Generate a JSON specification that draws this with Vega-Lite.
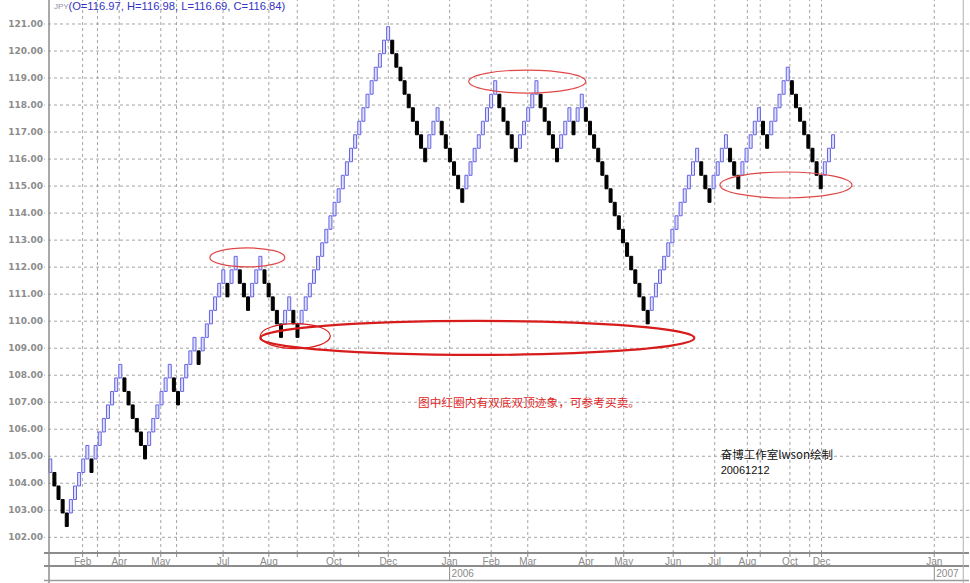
{
  "$schema": "https://vega.github.io/schema/vega-lite/v6.json",
  "width": 925,
  "height": 583,
  "autosize": {"type": "none"},
  "padding": {"left": 44, "top": 0, "right": 1, "bottom": 0},
  "background": "white",
  "config": {"view": {"stroke": null}},
  "datasets": {
    "bricks": [
      {"i":0,"o":104.4,"c":104.9},{"i":1,"o":104.4,"c":103.9},{"i":2,"o":103.9,"c":103.4},{"i":3,"o":103.4,"c":102.9},{"i":4,"o":102.9,"c":102.4},
      {"i":5,"o":102.9,"c":103.4},{"i":6,"o":103.4,"c":103.9},{"i":7,"o":103.9,"c":104.4},{"i":8,"o":104.4,"c":104.9},{"i":9,"o":104.9,"c":105.4},
      {"i":10,"o":104.9,"c":104.4},{"i":11,"o":104.9,"c":105.4},{"i":12,"o":105.4,"c":105.9},{"i":13,"o":105.9,"c":106.4},{"i":14,"o":106.4,"c":106.9},
      {"i":15,"o":106.9,"c":107.4},{"i":16,"o":107.4,"c":107.9},{"i":17,"o":107.9,"c":108.4},{"i":18,"o":107.9,"c":107.4},{"i":19,"o":107.4,"c":106.9},
      {"i":20,"o":106.9,"c":106.4},{"i":21,"o":106.4,"c":105.9},{"i":22,"o":105.9,"c":105.4},{"i":23,"o":105.4,"c":104.9},{"i":24,"o":105.4,"c":105.9},
      {"i":25,"o":105.9,"c":106.4},{"i":26,"o":106.4,"c":106.9},{"i":27,"o":106.9,"c":107.4},{"i":28,"o":107.4,"c":107.9},{"i":29,"o":107.9,"c":108.4},
      {"i":30,"o":107.9,"c":107.4},{"i":31,"o":107.4,"c":106.9},{"i":32,"o":107.4,"c":107.9},{"i":33,"o":107.9,"c":108.4},{"i":34,"o":108.4,"c":108.9},
      {"i":35,"o":108.9,"c":109.4},{"i":36,"o":108.9,"c":108.4},{"i":37,"o":108.9,"c":109.4},{"i":38,"o":109.4,"c":109.9},{"i":39,"o":109.9,"c":110.4},
      {"i":40,"o":110.4,"c":110.9},{"i":41,"o":110.9,"c":111.4},{"i":42,"o":111.4,"c":111.9},{"i":43,"o":111.4,"c":110.9},{"i":44,"o":111.4,"c":111.9},
      {"i":45,"o":111.9,"c":112.4},{"i":46,"o":111.9,"c":111.4},{"i":47,"o":111.4,"c":110.9},{"i":48,"o":110.9,"c":110.4},{"i":49,"o":110.9,"c":111.4},
      {"i":50,"o":111.4,"c":111.9},{"i":51,"o":111.9,"c":112.4},{"i":52,"o":111.9,"c":111.4},{"i":53,"o":111.4,"c":110.9},{"i":54,"o":110.9,"c":110.4},
      {"i":55,"o":110.4,"c":109.9},{"i":56,"o":109.9,"c":109.4},{"i":57,"o":109.9,"c":110.4},{"i":58,"o":110.4,"c":110.9},{"i":59,"o":110.4,"c":109.9},
      {"i":60,"o":109.9,"c":109.4},{"i":61,"o":109.9,"c":110.4},{"i":62,"o":110.4,"c":110.9},{"i":63,"o":110.9,"c":111.4},{"i":64,"o":111.4,"c":111.9},
      {"i":65,"o":111.9,"c":112.4},{"i":66,"o":112.4,"c":112.9},{"i":67,"o":112.9,"c":113.4},{"i":68,"o":113.4,"c":113.9},{"i":69,"o":113.9,"c":114.4},
      {"i":70,"o":114.4,"c":114.9},{"i":71,"o":114.9,"c":115.4},{"i":72,"o":115.4,"c":115.9},{"i":73,"o":115.9,"c":116.4},{"i":74,"o":116.4,"c":116.9},
      {"i":75,"o":116.9,"c":117.4},{"i":76,"o":117.4,"c":117.9},{"i":77,"o":117.9,"c":118.4},{"i":78,"o":118.4,"c":118.9},{"i":79,"o":118.9,"c":119.4},
      {"i":80,"o":119.4,"c":119.9},{"i":81,"o":119.9,"c":120.4},{"i":82,"o":120.4,"c":120.9},{"i":83,"o":120.4,"c":119.9},{"i":84,"o":119.9,"c":119.4},
      {"i":85,"o":119.4,"c":118.9},{"i":86,"o":118.9,"c":118.4},{"i":87,"o":118.4,"c":117.9},{"i":88,"o":117.9,"c":117.4},{"i":89,"o":117.4,"c":116.9},
      {"i":90,"o":116.9,"c":116.4},{"i":91,"o":116.4,"c":115.9},{"i":92,"o":116.4,"c":116.9},{"i":93,"o":116.9,"c":117.4},{"i":94,"o":117.4,"c":117.9},
      {"i":95,"o":117.4,"c":116.9},{"i":96,"o":116.9,"c":116.4},{"i":97,"o":116.4,"c":115.9},{"i":98,"o":115.9,"c":115.4},{"i":99,"o":115.4,"c":114.9},
      {"i":100,"o":114.9,"c":114.4},{"i":101,"o":114.9,"c":115.4},{"i":102,"o":115.4,"c":115.9},{"i":103,"o":115.9,"c":116.4},{"i":104,"o":116.4,"c":116.9},
      {"i":105,"o":116.9,"c":117.4},{"i":106,"o":117.4,"c":117.9},{"i":107,"o":117.9,"c":118.4},{"i":108,"o":118.4,"c":118.9},{"i":109,"o":118.4,"c":117.9},
      {"i":110,"o":117.9,"c":117.4},{"i":111,"o":117.4,"c":116.9},{"i":112,"o":116.9,"c":116.4},{"i":113,"o":116.4,"c":115.9},{"i":114,"o":116.4,"c":116.9},
      {"i":115,"o":116.9,"c":117.4},{"i":116,"o":117.4,"c":117.9},{"i":117,"o":117.9,"c":118.4},{"i":118,"o":118.4,"c":118.9},{"i":119,"o":118.4,"c":117.9},
      {"i":120,"o":117.9,"c":117.4},{"i":121,"o":117.4,"c":116.9},{"i":122,"o":116.9,"c":116.4},{"i":123,"o":116.4,"c":115.9},{"i":124,"o":116.4,"c":116.9},
      {"i":125,"o":116.9,"c":117.4},{"i":126,"o":117.4,"c":117.9},{"i":127,"o":117.4,"c":116.9},{"i":128,"o":117.4,"c":117.9},{"i":129,"o":117.9,"c":118.4},
      {"i":130,"o":117.9,"c":117.4},{"i":131,"o":117.4,"c":116.9},{"i":132,"o":116.9,"c":116.4},{"i":133,"o":116.4,"c":115.9},{"i":134,"o":115.9,"c":115.4},
      {"i":135,"o":115.4,"c":114.9},{"i":136,"o":114.9,"c":114.4},{"i":137,"o":114.4,"c":113.9},{"i":138,"o":113.9,"c":113.4},{"i":139,"o":113.4,"c":112.9},
      {"i":140,"o":112.9,"c":112.4},{"i":141,"o":112.4,"c":111.9},{"i":142,"o":111.9,"c":111.4},{"i":143,"o":111.4,"c":110.9},{"i":144,"o":110.9,"c":110.4},
      {"i":145,"o":110.4,"c":109.9},{"i":146,"o":110.4,"c":110.9},{"i":147,"o":110.9,"c":111.4},{"i":148,"o":111.4,"c":111.9},{"i":149,"o":111.9,"c":112.4},
      {"i":150,"o":112.4,"c":112.9},{"i":151,"o":112.9,"c":113.4},{"i":152,"o":113.4,"c":113.9},{"i":153,"o":113.9,"c":114.4},{"i":154,"o":114.4,"c":114.9},
      {"i":155,"o":114.9,"c":115.4},{"i":156,"o":115.4,"c":115.9},{"i":157,"o":115.9,"c":116.4},{"i":158,"o":115.9,"c":115.4},{"i":159,"o":115.4,"c":114.9},
      {"i":160,"o":114.9,"c":114.4},{"i":161,"o":114.9,"c":115.4},{"i":162,"o":115.4,"c":115.9},{"i":163,"o":115.9,"c":116.4},{"i":164,"o":116.4,"c":116.9},
      {"i":165,"o":116.4,"c":115.9},{"i":166,"o":115.9,"c":115.4},{"i":167,"o":115.4,"c":114.9},{"i":168,"o":115.4,"c":115.9},{"i":169,"o":115.9,"c":116.4},
      {"i":170,"o":116.4,"c":116.9},{"i":171,"o":116.9,"c":117.4},{"i":172,"o":117.4,"c":117.9},{"i":173,"o":117.4,"c":116.9},{"i":174,"o":116.9,"c":116.4},
      {"i":175,"o":116.9,"c":117.4},{"i":176,"o":117.4,"c":117.9},{"i":177,"o":117.9,"c":118.4},{"i":178,"o":118.4,"c":118.9},{"i":179,"o":118.9,"c":119.4},
      {"i":180,"o":118.9,"c":118.4},{"i":181,"o":118.4,"c":117.9},{"i":182,"o":117.9,"c":117.4},{"i":183,"o":117.4,"c":116.9},{"i":184,"o":116.9,"c":116.4},
      {"i":185,"o":116.4,"c":115.9},{"i":186,"o":115.9,"c":115.4},{"i":187,"o":115.4,"c":114.9},{"i":188,"o":115.4,"c":115.9},{"i":189,"o":115.9,"c":116.4},
      {"i":190,"o":116.4,"c":116.9}
    ],
    "levels": [
      {"v":102},{"v":103},{"v":104},{"v":105},{"v":106},{"v":107},{"v":108},{"v":109},{"v":110},{"v":111},
      {"v":112},{"v":113},{"v":114},{"v":115},{"v":116},{"v":117},{"v":118},{"v":119},{"v":120},{"v":121}
    ],
    "months": [
      {"pos":7.85,"label":"Feb"},{"pos":11.45,"label":""},{"pos":16.73,"label":"Apr"},{"pos":26.82,"label":"May"},
      {"pos":30.66,"label":""},{"pos":41.95,"label":"Jul"},{"pos":53.05,"label":"Aug"},{"pos":59.95,"label":""},
      {"pos":68.84,"label":"Oct"},{"pos":74.85,"label":""},{"pos":82.04,"label":"Dec"},{"pos":96.93,"label":"Jan"},
      {"pos":107.01,"label":"Feb"},{"pos":115.9,"label":"Mar"},{"pos":130.06,"label":"Apr"},{"pos":139.19,"label":"May"},
      {"pos":151.19,"label":"Jun"},{"pos":161.27,"label":"Jul"},{"pos":169.2,"label":"Aug"},{"pos":172.32,"label":""},
      {"pos":179.52,"label":"Oct"},{"pos":184.32,"label":""},{"pos":187.2,"label":"Dec"},{"pos":214.57,"label":"Jan"}
    ],
    "years": [
      {"pos":96.93,"label":"2006"},{"pos":214.57,"label":"2007"}
    ],
    "rings": [
      {"id":"a","x":47.83,"y":112.36},
      {"id":"b","x":59.47,"y":109.45},
      {"id":"c","x":103.65,"y":109.38},
      {"id":"d","x":115.77,"y":118.87},
      {"id":"e","x":178.56,"y":115.04}
    ]
  },
  "layer": [
    {
      "data": {"name": "levels"},
      "mark": {"type": "rule", "strokeDash": [3, 3], "color": "#a4a4a4", "strokeWidth": 1},
      "encoding": {
        "y": {"field": "v", "type": "quantitative", "scale": {"domain": [100.309, 121.888], "nice": false, "zero": false}, "axis": null}
      }
    },
    {
      "data": {"name": "months"},
      "mark": {"type": "rule", "strokeDash": [3, 3], "color": "#a4a4a4", "strokeWidth": 1},
      "encoding": {
        "x": {"field": "pos", "type": "quantitative", "scale": {"domain": [-0.31, 221.78], "nice": false, "zero": false}, "axis": null},
        "y": {"datum": 101.419, "type": "quantitative", "scale": {"domain": [100.309, 121.888], "nice": false, "zero": false}, "axis": null},
        "y2": {"datum": 121.888}
      }
    },
    {
      "data": {"name": "levels"},
      "mark": {"type": "text", "font": "DejaVu Sans", "fontSize": 9, "fontWeight": "bold", "color": "#8c8c8c", "align": "right", "baseline": "middle", "dx": -6},
      "encoding": {
        "x": {"datum": -0.31, "type": "quantitative", "scale": {"domain": [-0.31, 221.78], "nice": false, "zero": false}, "axis": null},
        "y": {"field": "v", "type": "quantitative", "scale": {"domain": [100.309, 121.888], "nice": false, "zero": false}, "axis": null},
        "text": {"field": "v", "type": "quantitative", "format": ".2f"}
      }
    },
    {
      "data": {"name": "bricks"},
      "mark": {"type": "bar", "width": 3, "strokeWidth": 1},
      "encoding": {
        "x": {"field": "i", "type": "quantitative", "scale": {"domain": [-0.31, 221.78], "nice": false, "zero": false}, "axis": null},
        "y": {"field": "o", "type": "quantitative", "scale": {"domain": [100.309, 121.888], "nice": false, "zero": false}, "axis": null},
        "y2": {"field": "c"},
        "fill": {"condition": {"test": "datum.c > datum.o", "value": "#dedefa"}, "value": "#000000"},
        "stroke": {"condition": {"test": "datum.c > datum.o", "value": "#6464e4"}, "value": "#000000"}
      }
    },
    {
      "data": {"values": [{}]},
      "mark": {"type": "rule", "color": "#8c8c8c", "strokeWidth": 1.5},
      "encoding": {"x": {"datum": -0.31, "type": "quantitative", "scale": {"domain": [-0.31, 221.78], "nice": false, "zero": false}, "axis": null}}
    },
    {
      "data": {"values": [{}]},
      "mark": {"type": "rule", "color": "#8c8c8c", "strokeWidth": 2},
      "encoding": {"y": {"datum": 101.419, "type": "quantitative", "scale": {"domain": [100.309, 121.888], "nice": false, "zero": false}, "axis": null}}
    },
    {
      "data": {"values": [{}]},
      "mark": {"type": "rule", "color": "#8c8c8c", "strokeWidth": 2},
      "encoding": {"y": {"datum": 100.938, "type": "quantitative", "scale": {"domain": [100.309, 121.888], "nice": false, "zero": false}, "axis": null}}
    },
    {
      "data": {"values": [{}]},
      "mark": {"type": "rule", "color": "#9a9a9a", "strokeWidth": 1.5},
      "encoding": {"y": {"datum": 100.4, "type": "quantitative", "scale": {"domain": [100.309, 121.888], "nice": false, "zero": false}, "axis": null}}
    },
    {
      "data": {"values": [{}]},
      "mark": {"type": "rule", "color": "#b0b0b0", "strokeWidth": 1},
      "encoding": {"x": {"datum": 221.6, "type": "quantitative", "scale": {"domain": [-0.31, 221.78], "nice": false, "zero": false}, "axis": null}}
    },
    {
      "data": {"name": "months"},
      "mark": {"type": "rule", "color": "#8c8c8c", "strokeWidth": 1},
      "encoding": {
        "x": {"field": "pos", "type": "quantitative", "scale": {"domain": [-0.31, 221.78], "nice": false, "zero": false}, "axis": null},
        "y": {"datum": 101.27, "type": "quantitative", "scale": {"domain": [100.309, 121.888], "nice": false, "zero": false}, "axis": null},
        "y2": {"datum": 101.46}
      }
    },
    {
      "data": {"name": "months"},
      "mark": {"type": "text", "font": "Liberation Sans", "fontSize": 10, "color": "#8a8a8a", "baseline": "middle", "align": "center"},
      "encoding": {
        "x": {"field": "pos", "type": "quantitative", "scale": {"domain": [-0.31, 221.78], "nice": false, "zero": false}, "axis": null},
        "y": {"datum": 101.1, "type": "quantitative", "scale": {"domain": [100.309, 121.888], "nice": false, "zero": false}, "axis": null},
        "text": {"field": "label"}
      }
    },
    {
      "data": {"name": "years"},
      "mark": {"type": "rule", "color": "#8c8c8c", "strokeWidth": 1},
      "encoding": {
        "x": {"field": "pos", "type": "quantitative", "scale": {"domain": [-0.31, 221.78], "nice": false, "zero": false}, "axis": null},
        "y": {"datum": 100.938, "type": "quantitative", "scale": {"domain": [100.309, 121.888], "nice": false, "zero": false}, "axis": null},
        "y2": {"datum": 100.4}
      }
    },
    {
      "data": {"name": "years"},
      "mark": {"type": "text", "font": "Liberation Sans", "fontSize": 10, "color": "#8a8a8a", "baseline": "middle", "align": "left", "dx": 2},
      "encoding": {
        "x": {"field": "pos", "type": "quantitative", "scale": {"domain": [-0.31, 221.78], "nice": false, "zero": false}, "axis": null},
        "y": {"datum": 100.64, "type": "quantitative", "scale": {"domain": [100.309, 121.888], "nice": false, "zero": false}, "axis": null},
        "text": {"field": "label"}
      }
    },
    {
      "data": {"name": "rings"},
      "mark": {"type": "point", "filled": false, "size": 4, "opacity": 1},
      "encoding": {
        "x": {"field": "x", "type": "quantitative", "scale": {"domain": [-0.31, 221.78], "nice": false, "zero": false}, "axis": null},
        "y": {"field": "y", "type": "quantitative", "scale": {"domain": [100.309, 121.888], "nice": false, "zero": false}, "axis": null},
        "shape": {
          "field": "id", "type": "nominal", "legend": null,
          "scale": {
            "domain": ["a", "b", "c", "d", "e"],
            "range": [
              "M-37.5,0A37.5,9.5 0 1,0 37.5,0A37.5,9.5 0 1,0 -37.5,0Z",
              "M-35,0A35,12.5 0 1,0 35,0A35,12.5 0 1,0 -35,0Z",
              "M-217,0A217,17 0 1,0 217,0A217,17 0 1,0 -217,0Z",
              "M-58.5,0A58.5,11.5 0 1,0 58.5,0A58.5,11.5 0 1,0 -58.5,0Z",
              "M-66,0A66,13 0 1,0 66,0A66,13 0 1,0 -66,0Z"
            ]
          }
        },
        "stroke": {"condition": {"test": "datum.id == 'c' || datum.id == 'b'", "value": "#d81c1c"}, "value": "#e04848"},
        "strokeWidth": {"condition": {"test": "datum.id == 'c'", "value": 2.2}, "value": 1.2}
      }
    },
    {
      "data": {"values": [{"t": "JPY"}]},
      "mark": {"type": "text", "font": "Liberation Sans", "fontSize": 8, "color": "#9090a8", "baseline": "middle", "align": "left"},
      "encoding": {
        "x": {"datum": 0.9, "type": "quantitative", "scale": {"domain": [-0.31, 221.78], "nice": false, "zero": false}, "axis": null},
        "y": {"datum": 121.62, "type": "quantitative", "scale": {"domain": [100.309, 121.888], "nice": false, "zero": false}, "axis": null},
        "text": {"field": "t"}
      }
    },
    {
      "data": {"values": [{"t": "(O=116.97, H=116.98, L=116.69, C=116.84)"}]},
      "mark": {"type": "text", "font": "Liberation Sans", "fontSize": 11.2, "color": "#3434c4", "baseline": "middle", "align": "left"},
      "encoding": {
        "x": {"datum": 4.4, "type": "quantitative", "scale": {"domain": [-0.31, 221.78], "nice": false, "zero": false}, "axis": null},
        "y": {"datum": 121.62, "type": "quantitative", "scale": {"domain": [100.309, 121.888], "nice": false, "zero": false}, "axis": null},
        "text": {"field": "t"}
      }
    },
    {
      "data": {"values": [{"t": "图中红圈内有双底双顶迹象，可参考买卖。"}]},
      "mark": {"type": "text", "font": "Noto Sans CJK SC", "fontSize": 11.7, "color": "#e02828", "baseline": "middle", "align": "left"},
      "encoding": {
        "x": {"datum": 89.24, "type": "quantitative", "scale": {"domain": [-0.31, 221.78], "nice": false, "zero": false}, "axis": null},
        "y": {"datum": 106.96, "type": "quantitative", "scale": {"domain": [100.309, 121.888], "nice": false, "zero": false}, "axis": null},
        "text": {"field": "t"}
      }
    },
    {
      "data": {"values": [{"t": "奋博工作室lwson绘制"}]},
      "mark": {"type": "text", "font": "Noto Sans CJK SC", "fontSize": 11.5, "color": "#111111", "baseline": "middle", "align": "left"},
      "encoding": {
        "x": {"datum": 162.71, "type": "quantitative", "scale": {"domain": [-0.31, 221.78], "nice": false, "zero": false}, "axis": null},
        "y": {"datum": 105.02, "type": "quantitative", "scale": {"domain": [100.309, 121.888], "nice": false, "zero": false}, "axis": null},
        "text": {"field": "t"}
      }
    },
    {
      "data": {"values": [{"t": "20061212"}]},
      "mark": {"type": "text", "font": "Liberation Sans", "fontSize": 11, "color": "#111111", "baseline": "middle", "align": "left"},
      "encoding": {
        "x": {"datum": 162.71, "type": "quantitative", "scale": {"domain": [-0.31, 221.78], "nice": false, "zero": false}, "axis": null},
        "y": {"datum": 104.45, "type": "quantitative", "scale": {"domain": [100.309, 121.888], "nice": false, "zero": false}, "axis": null},
        "text": {"field": "t"}
      }
    }
  ]
}
